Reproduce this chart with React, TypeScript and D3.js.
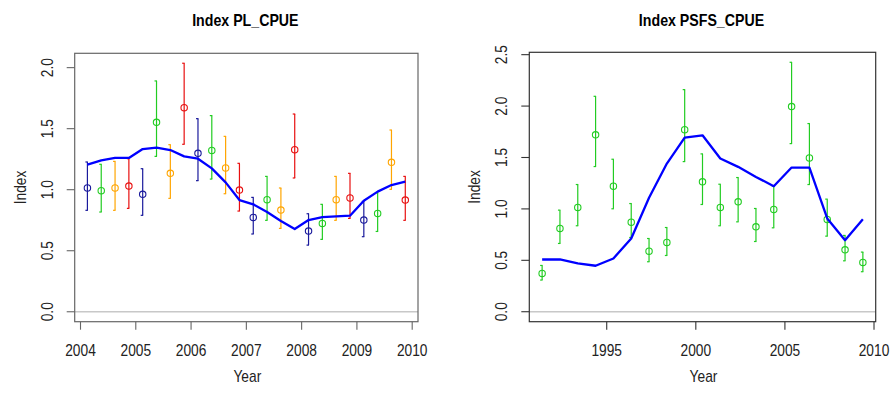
import React from "react";
import * as d3 from "d3";

// ---- Left panel: Index PL_CPUE (quarterly) ----
const plStart = 2004.125;
const plStep = 0.25;
const plObs = [1.014, 0.992, 1.014, 1.03, 0.962, 1.552, 1.134, 1.672, 1.298, 1.322, 1.178, 0.997,
  0.773, 0.918, 0.833, 1.328, 0.661, 0.724, 0.918, 0.932, 0.751, 0.806, 1.224, 0.915];
const plUpper = [1.227, 1.208, 1.232, 1.254, 1.172, 1.891, 1.369, 2.036, 1.582, 1.607, 1.437, 1.216,
  0.937, 1.109, 1.014, 1.62, 0.803, 0.88, 1.109, 1.134, 0.904, 0.975, 1.489, 1.109];
const plLower = [0.831, 0.817, 0.831, 0.847, 0.79, 1.273, 0.929, 1.372, 1.074, 1.087, 0.967, 0.825,
  0.637, 0.749, 0.683, 1.096, 0.546, 0.593, 0.749, 0.765, 0.615, 0.658, 1.003, 0.749];
const plFit = [1.205, 1.24, 1.26, 1.26, 1.333, 1.344, 1.325, 1.273, 1.254, 1.175, 1.06, 0.915,
  0.88, 0.817, 0.743, 0.678, 0.751, 0.776, 0.781, 0.787, 0.91, 0.984, 1.038, 1.066];
const seasonColors = ["#1a1a9c", "#22cc22", "#ffa500", "#e81010"];
const plXTicks = [2004, 2005, 2006, 2007, 2008, 2009, 2010];
const plYTicks = [0, 0.5, 1, 1.5, 2];

// ---- Right panel: Index PSFS_CPUE (annual) ----
const psStart = 1991.375;
const psObs = [0.372, 0.81, 1.014, 1.72, 1.221, 0.871, 0.589, 0.674, 1.771, 1.263, 1.014, 1.069,
  0.826, 0.994, 1.995, 1.496, 0.897, 0.602, 0.479];
const psUpper = [0.45, 0.988, 1.237, 2.095, 1.483, 1.052, 0.712, 0.819, 2.16, 1.535, 1.24, 1.305,
  1.004, 1.221, 2.426, 1.83, 1.095, 0.742, 0.58];
const psLower = [0.308, 0.664, 0.836, 1.412, 1.001, 0.722, 0.486, 0.547, 1.46, 1.043, 0.836, 0.874,
  0.683, 0.816, 1.635, 1.237, 0.735, 0.495, 0.389];
const psFit = [0.508, 0.508, 0.47, 0.447, 0.518, 0.712, 1.108, 1.441, 1.694, 1.716, 1.49, 1.409,
  1.311, 1.221, 1.402, 1.402, 0.907, 0.696, 0.9];
const psColor = "#22cc22";
const psXTicks = [1995, 2000, 2005, 2010];
const psYTicks = [0, 0.5, 1, 1.5, 2, 2.5];

const FONT = "'Liberation Sans', Arial, sans-serif";
const SX = 0.86;

function Txt({ x, y, rot = 0, size = 16, bold = false, children, fill = "#222" }: any) {
  return (
    <text
      transform={`translate(${x},${y}) rotate(${rot}) scale(${SX},1)`}
      textAnchor="middle"
      fontFamily={FONT}
      fontSize={size}
      fontWeight={bold ? "bold" : "normal"}
      fill={fill}
    >
      {children}
    </text>
  );
}

function Panel({ title, xs, obs, lower, upper, fit, colors, xTicks, yTicks, box, boxColor }: any) {
  const [left, top, right, bottom] = box;
  const xMin = d3.min(xs) as number, xMax = d3.max(xs) as number;
  const xPad = (xMax - xMin) * 0.04;
  const yMax = d3.max(upper) as number;
  const yPad = yMax * 0.04;
  const x = d3.scaleLinear().domain([xMin - xPad, xMax + xPad]).range([left, right]);
  const y = d3.scaleLinear().domain([-yPad, yMax + yPad]).range([bottom, top]);
  const line = d3.line<number>().x((_, i) => x(xs[i])).y((d) => y(d));
  const cx = (left + right) / 2;
  const cy = (top + bottom) / 2;
  return (
    <g>
      <Txt x={cx - 1} y={26} size={16.5} bold fill="#000">{title}</Txt>
      {/* zero line */}
      <line x1={left} x2={right} y1={y(0)} y2={y(0)} stroke="#c8c8c8" strokeWidth={1.5} />
      {/* error bars */}
      {xs.map((xv: number, i: number) => {
        const c = colors[i % colors.length];
        const px = x(xv);
        return (
          <g key={"e" + i} stroke={c} strokeWidth={1.2} fill="none">
            <line x1={px} x2={px} y1={y(upper[i])} y2={y(lower[i])} />
            <line x1={px - 2} x2={px + 0.5} y1={y(upper[i])} y2={y(upper[i])} />
            <line x1={px - 2} x2={px + 0.5} y1={y(lower[i])} y2={y(lower[i])} />
            <circle cx={px} cy={y(obs[i])} r={3.2} strokeWidth={1.1} />
          </g>
        );
      })}
      {/* fitted line */}
      <path d={line(fit) || ""} fill="none" stroke="#0000ff" strokeWidth={2.3} strokeLinejoin="round" />
      {/* box */}
      <rect x={left} y={top} width={right - left} height={bottom - top} fill="none" stroke={boxColor} strokeWidth={1.2} />
      {/* x axis */}
      {xTicks.map((t: number) => (
        <g key={"xt" + t}>
          <line x1={x(t)} x2={x(t)} y1={bottom} y2={bottom + 8} stroke={boxColor} strokeWidth={1.1} />
          <Txt x={x(t)} y={356}>{String(t)}</Txt>
        </g>
      ))}
      {/* y axis */}
      {yTicks.map((t: number) => (
        <g key={"yt" + t}>
          <line x1={left - 8} x2={left} y1={y(t)} y2={y(t)} stroke={boxColor} strokeWidth={1.1} />
          <Txt x={left - 22} y={y(t)} rot={-90}>{t.toFixed(1)}</Txt>
        </g>
      ))}
      <Txt x={cx + 1} y={382}>Year</Txt>
      <Txt x={left - 49} y={cy} rot={-90}>Index</Txt>
    </g>
  );
}

export default function App() {
  const plX = plObs.map((_, i) => plStart + i * plStep);
  const psX = psObs.map((_, i) => psStart + i);
  return (
    <svg
      width={891}
      height={394}
      style={{ position: "absolute", left: 0, top: 0, background: "#fff" }}
    >
      <rect width={891} height={394} fill="#fff" />
      <Panel
        title="Index PL_CPUE"
        xs={plX}
        obs={plObs}
        lower={plLower}
        upper={plUpper}
        fit={plFit}
        colors={seasonColors}
        xTicks={plXTicks}
        yTicks={plYTicks}
        box={[74.7, 53.3, 418, 321.7]}
        boxColor="#666"
      />
      <Panel
        title="Index PSFS_CPUE"
        xs={psX}
        obs={psObs}
        lower={psLower}
        upper={psUpper}
        fit={psFit}
        colors={[psColor]}
        xTicks={psXTicks}
        yTicks={psYTicks}
        box={[529.3, 52.3, 875.7, 321.7]}
        boxColor="#333"
      />
    </svg>
  );
}
